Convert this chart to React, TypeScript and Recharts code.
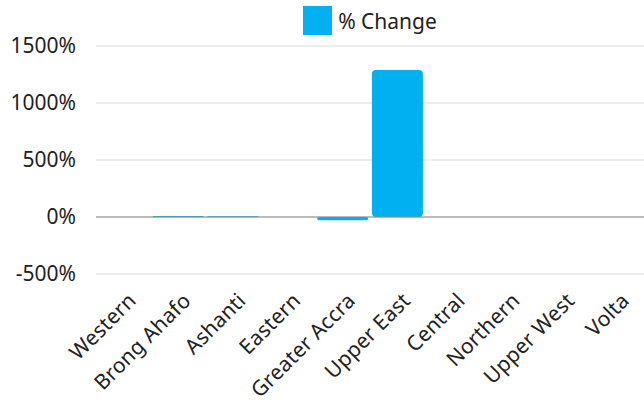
import { BarChart, Bar, XAxis, YAxis, CartesianGrid, Legend, ReferenceLine } from "recharts";

const regions = ["Western", "Brong Ahafo", "Ashanti", "Eastern", "Greater Accra", "Upper East", "Central", "Northern", "Upper West", "Volta"];
const pctChange = [0, 8, 6, 0, -28, 1290, 0, 0, 0, 0];
const yTicks = [-500, 0, 500, 1000, 1500];

const data = regions.map((region, i) => ({ region, change: pctChange[i] }));

const FONT = "'Noto Sans', sans-serif";
const BLUE = "#00B0F0";

const renderXTick = (props: { x: number; y: number; payload: { value: string } }) => {
  const { x, y, payload } = props;
  const ax = x + 14;
  const ay = y + 20;
  return (
    <text
      x={ax}
      y={ay}
      textAnchor="end"
      transform={`rotate(-45, ${ax}, ${ay})`}
      fontSize={21}
      letterSpacing={0.2}
      fill="#222"
      fontFamily={FONT}
    >
      {payload.value}
    </text>
  );
};

const renderLegend = () => (
  <div style={{ display: "flex", justifyContent: "center", alignItems: "center", fontFamily: FONT, fontSize: 21, color: "#222" }}>
    <span style={{ display: "inline-block", width: 29, height: 29, background: BLUE, marginRight: 6 }} />
    <span>% Change</span>
  </div>
);

export default function App() {
  return (
    <div style={{ position: "absolute", left: 0, top: 0, width: 644, height: 406, background: "#fff" }}>
      <BarChart width={644} height={406} data={data} margin={{ top: 16, right: 0, bottom: 0, left: 0 }} barCategoryGap="3.5%">
        <CartesianGrid vertical={false} stroke="#d9d9d9" />
        <Legend verticalAlign="top" height={30} content={renderLegend} wrapperStyle={{ top: 6, left: 96, width: 548 }} />
        <XAxis dataKey="region" interval={0} tick={renderXTick} axisLine={false} tickLine={false} height={132} />
        <YAxis
          domain={[-500, 1500]}
          ticks={yTicks}
          tickFormatter={(v: number) => `${v}%`}
          axisLine={false}
          tickLine={false}
          width={96}
          tick={{ fontSize: 21, fill: "#222", fontFamily: FONT }}
          tickMargin={14}
        />
        <ReferenceLine y={0} stroke="#888" />
        <Bar dataKey="change" fill={BLUE} radius={4} isAnimationActive={false} />
      </BarChart>
    </div>
  );
}
